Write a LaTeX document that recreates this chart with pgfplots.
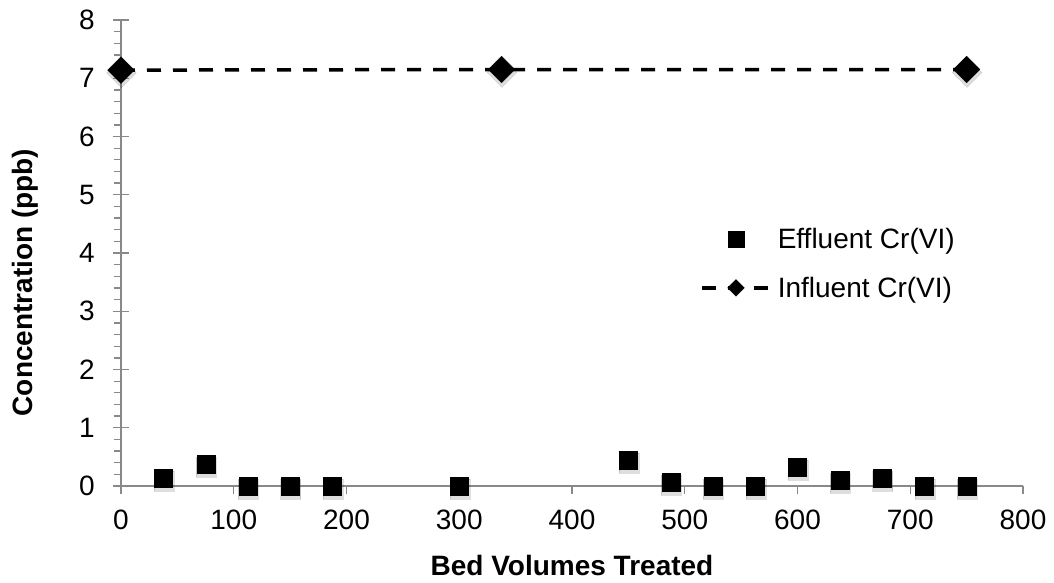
\documentclass[border=0pt]{standalone}
\usepackage{fontspec}
\setmainfont{Liberation Sans}
\usepackage{pgfplots}
\pgfplotsset{compat=1.18}
\definecolor{axgray}{RGB}{137,137,137}
\pgfplotsset{
    effleg/.style={legend image code/.code={\draw[##1, mark size=8pt] plot coordinates {(34pt,0pt)};}},
    infleg/.style={legend image code/.code={\draw[##1, mark size=6pt, mark repeat=2, mark phase=2]
        plot coordinates {(0pt,0pt) (34pt,0pt) (68pt,0pt)};}},
    shadow/.style={only marks, forget plot,
        mark options={draw=none, fill=black, opacity=0.13, yshift=-3pt, xshift=0.5pt, #1}},
}
\begin{document}
\begin{tikzpicture}
\begin{axis}[
    at={(0,0)}, anchor=south west,
    scale only axis, width=902pt, height=466pt,
    xmin=0, xmax=800, ymin=0, ymax=8,
    xtick={0,100,...,800}, ytick={0,1,...,8},
    minor y tick num=4,
    extra y ticks={0,1,...,8}, extra y tick labels={},
    extra y tick style={tick align=inside},
    axis lines*=left,
    axis line style={-, draw=axgray, line width=1.3pt},
    tick style={draw=axgray, line width=1.3pt},
    major tick length=8pt, minor tick length=7pt, tick align=outside,
    font=\fontsize{28}{34}\selectfont,
    /pgf/number format/assume math mode=true,
    ticklabel style={font=\fontsize{28}{34}\selectfont},
    xticklabel style={inner sep=0pt, anchor=north, yshift=-16pt},
    yticklabel style={inner sep=0pt, anchor=east, xshift=-18pt},
    xlabel={\bfseries Bed Volumes Treated},
    ylabel={\bfseries Concentration (ppb)},
    xlabel style={at={(axis description cs:0.5,-0.191)}, anchor=base, inner sep=0pt},
    ylabel style={at={(axis description cs:-0.0976,0.4367)}, anchor=base, inner sep=0pt},
    legend cell align=left,
    legend style={draw=none, fill=none, at={(axis description cs:0.642,0.4775)}, anchor=west,
        inner sep=0pt, row sep=23pt, nodes={inner sep=2pt},
        font=\fontsize{28}{34}\selectfont,
        /tikz/every odd column/.append style={column sep=4pt}},
]
% soft shadows under the marks
\addplot[shadow, mark=square*, mark size=10pt] coordinates {
    (37.5,0.13) (75,0.37) (112.5,0) (150,0) (187.5,0) (300,0)
    (450,0.44) (487.5,0.07) (525,0) (562.5,0) (600,0.33)
    (637.5,0.10) (675,0.13) (712.5,0) (750,0)
};
\addplot[shadow={rotate=45}, mark=square*, mark size=10.5pt] coordinates {
    (0,7.14) (337.5,7.15) (750,7.15)
};
% Effluent Cr(VI)
\addplot[only marks, mark=square*, mark size=9pt,
    mark options={fill=black, draw=black, line width=0.1pt}, effleg]
coordinates {
    (37.5,0.13) (75,0.37) (112.5,0) (150,0) (187.5,0) (300,0)
    (450,0.44) (487.5,0.07) (525,0) (562.5,0) (600,0.33)
    (637.5,0.10) (675,0.13) (712.5,0) (750,0)
};
\addlegendentry{Effluent Cr(VI)}
% Influent Cr(VI)
\addplot[black, line width=3.5pt, dash pattern=on 14pt off 12pt,
    mark=square*, mark size=9.5pt,
    mark options={rotate=45, solid, fill=black, draw=black, line width=0.1pt}, infleg]
coordinates {
    (0,7.14) (337.5,7.15) (750,7.15)
};
\addlegendentry{Influent Cr(VI)}
\end{axis}
\pgfresetboundingbox
\path (-121pt,-96pt) rectangle (933pt,486pt);
\end{tikzpicture}
\end{document}
